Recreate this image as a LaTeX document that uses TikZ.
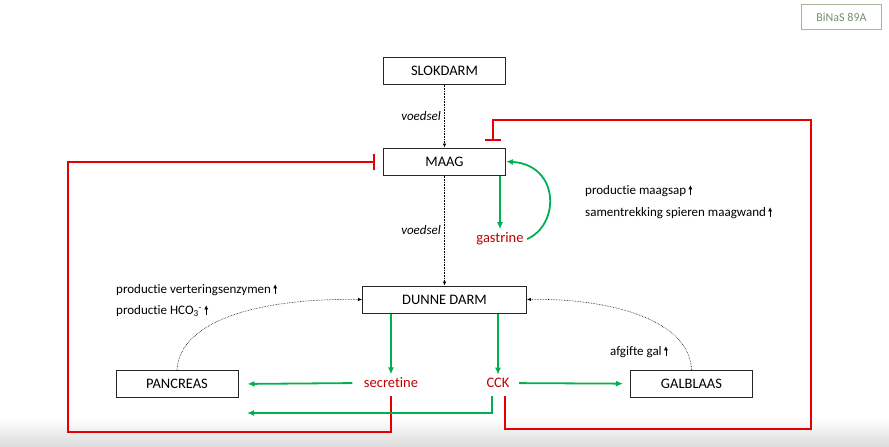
\documentclass[tikz,border=0pt]{standalone}
\usepackage{fontspec}
\setmainfont{Carlito}[Ligatures=NoCommon]
\usetikzlibrary{positioning,arrows.meta}
\definecolor{hormoon}{RGB}{192,0,0}
\definecolor{stimgroen}{RGB}{0,176,80}
\definecolor{remrood}{RGB}{228,0,0}
\definecolor{binastekst}{RGB}{120,140,110}
\definecolor{binasrand}{RGB}{165,182,155}
\newcommand{\omhoog}{\,\tikz[baseline=0pt]\draw[line width=0.6pt,-{Latex[length=4pt,width=4pt]}] (0pt,0pt) -- (0pt,9.5pt);}
\begin{document}
\begin{tikzpicture}[x=1pt, y=-1pt, >={Latex[length=7pt,width=6pt]},
    box/.style={draw=black!85, line width=1pt, minimum width=122pt, minimum height=27pt, inner sep=0pt, font=\fontsize{14.5}{16}\selectfont},
    hormoonlabel/.style={text=hormoon, font=\fontsize{14.5}{16}\selectfont},
    info/.style={anchor=west, inner sep=0pt, font=\fontsize{13}{15}\selectfont},
    stim/.style={->, stimgroen, line width=1.8pt},
    rem/.style={-{Bar[width=16pt,line width=2pt]}, remrood, line width=2pt},
    voedselpijl/.style={-{Latex[length=4pt,width=3.5pt]}, densely dotted, semithick}]
    \useasboundingbox (0,0) rectangle (889,447);
    \shade[top color=white, bottom color=black!14] (0,418) rectangle (889,447);

    \node[box] (slokdarm) at (444.5,70.5) {SLOKDARM};
    \node[box] (maag) [below=63pt of slokdarm] {MAAG};
    \node[box, minimum width=164pt] (dunne) [below=110pt of maag] {DUNNE DARM};
    \node[box] (pancreas) at (177,384) {PANCREAS};
    \node[box] (galblaas) at (691.5,384) {GALBLAAS};
    \node[hormoonlabel] (gastrine) at (500,239) {gastrine};
    \node[hormoonlabel] (secretine) at (391,383) {secretine};
    \node[hormoonlabel] (cck) at (498,383) {CCK};
    \node[draw=binasrand, text=binastekst, minimum width=80pt, minimum height=25pt, font=\fontsize{12}{14}\selectfont] (binas) at (841.5,17) {BiNaS 89A};

    \node[info] (maagsap) at (585,191) {productie maagsap\omhoog};
    \node[info] (spieren) at (585,213) {samentrekking spieren maagwand\omhoog};
    \node[info] (enzymen) at (116,290) {productie verteringsenzymen\omhoog};
    \node[info] (hco) at (116,311) {productie HCO\textsubscript{3}\textsuperscript{-}\omhoog};
    \node[info] (gal) at (610,352) {afgifte gal\omhoog};

    \coordinate (linksonder) at (68,432);
    \coordinate (rechtsonder) at (811,429);
    \coordinate (rechtsboven) at (811,120);
    \coordinate (ingang) at (247,413);

    % remming terug naar de maag
    \draw[rem, shorten <=4pt] (secretine.south) |- (linksonder) |- ([xshift=-8pt]maag.west);
    \draw[rem, shorten <=5pt] ([xshift=7pt]cck.south) |- (rechtsonder) -- (rechtsboven) -| ([xshift=48pt,yshift=7pt]maag.north);

    % voedsel
    \draw[voedselpijl] (slokdarm) -- node[left, font=\fontsize{13}{15}\selectfont\itshape] {voedsel} (maag);
    \draw[voedselpijl] (maag) -- node[left, font=\fontsize{13}{15}\selectfont\itshape] {voedsel} (dunne);
    \draw[voedselpijl] (pancreas.north) .. controls (180,320) and (260,298) .. (dunne.west);
    \draw[voedselpijl] (galblaas.north) .. controls (690,320) and (610,298) .. (dunne.east);

    % hormonen
    \draw[stim] (maag.south -| gastrine) -- (gastrine);
    \draw[stim] (gastrine.east) .. controls (560,225) and (560,165) .. (maag.east);
    \draw[stim] (dunne.south -| secretine) -- (secretine);
    \draw[stim] (dunne.south -| cck) -- (cck);
    \draw[stim, shorten <=8pt, shorten >=9pt] (secretine.west) -- (pancreas.east);
    \draw[stim, shorten <=5pt] ([xshift=-6pt]cck.south) |- (ingang);
    \draw[stim, shorten <=6pt, shorten >=7pt] (cck) -- (galblaas);
\end{tikzpicture}
\end{document}
